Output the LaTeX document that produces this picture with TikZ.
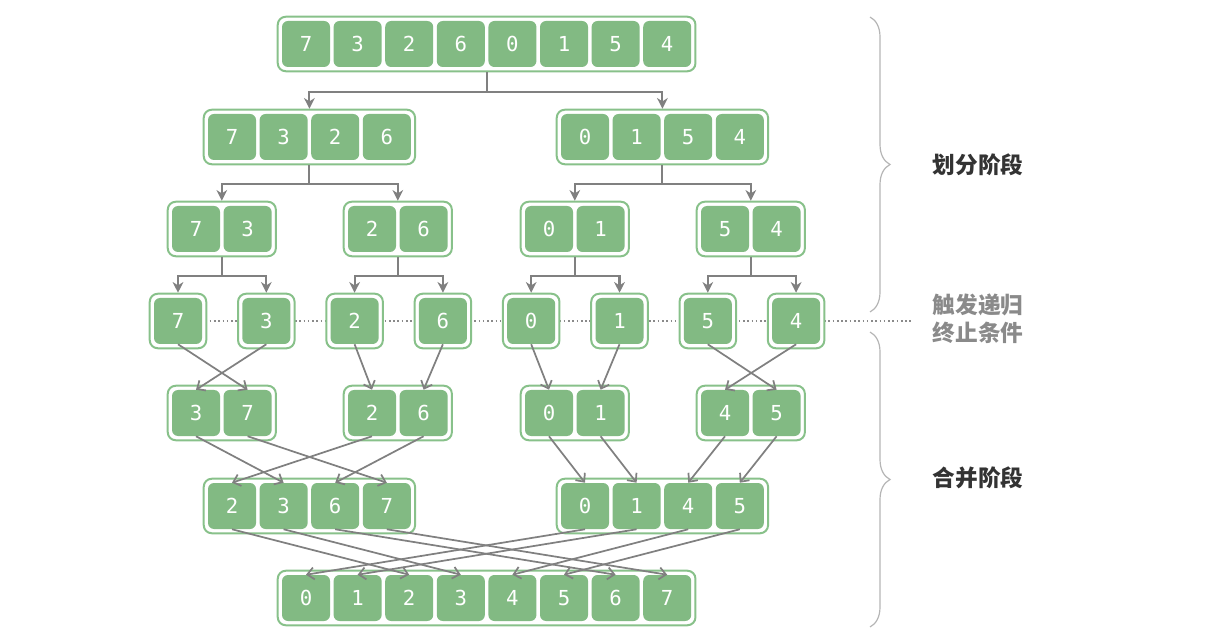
\documentclass[tikz,border=0pt]{standalone}
\usepackage{fontspec}
\usetikzlibrary{arrows.meta, fit, backgrounds, decorations.pathreplacing}
\newfontfamily\digitfont{DejaVu Sans Mono}
\newfontfamily\cjkfont{Noto Sans CJK SC}
\definecolor{cell-green}{HTML}{82BA83}
\definecolor{box-green}{HTML}{88C18A}
\definecolor{arrow-gray}{HTML}{808080}
\definecolor{label-dark}{HTML}{333333}
\definecolor{label-gray}{HTML}{8A8A8A}
\definecolor{brace-gray}{HTML}{B5B5B5}

\begin{document}
\begin{tikzpicture}[x=0.75pt, y=-0.75pt,
    cell/.style={rectangle, rounded corners=4.5pt, fill=cell-green, text=white,
      minimum width=36pt, minimum height=34.5pt, inner sep=0pt,
      font=\digitfont\fontsize{15.5}{15.5}\selectfont},
    arrbox/.style={rectangle, rounded corners=6pt, draw=box-green,
      line width=1.5pt, fill=white, inner sep=3pt},
    splitarrow/.style={arrow-gray, line width=1.6pt,
      -{Stealth[length=8pt, width=8pt, inset=2.5pt]}},
    mergearrow/.style={arrow-gray, line width=1.3pt,
      -{Straight Barb[length=5pt, width=9pt]}},
    stagebrace/.style={brace-gray, line width=0.9pt, decorate,
      decoration={brace, amplitude=15pt, aspect=0.5}},
    stagelabel/.style={font=\cjkfont\bfseries\fontsize{17}{21}\selectfont}]
    \useasboundingbox (0,0) rectangle (1231,634);

    % cells, row by row
    \foreach \x/\v [count=\i from 0] in {306/7, 357.6/3, 409.2/2, 460.8/6,
        512.4/0, 564/1, 615.6/5, 667.2/4}
      \node[cell] (a\i) at (\x, 44) {\v};
    \foreach \x/\v [count=\i from 0] in {232/7, 283.6/3, 335.2/2, 386.8/6,
        585/0, 636.6/1, 688.2/5, 739.8/4}
      \node[cell] (b\i) at (\x, 137) {\v};
    \foreach \x/\v [count=\i from 0] in {196/7, 247.6/3, 372/2, 423.6/6,
        549/0, 600.6/1, 725/5, 776.6/4}
      \node[cell] (c\i) at (\x, 229) {\v};
    \foreach \x/\v [count=\i from 0] in {178/7, 266.3/3, 354.6/2, 442.9/6,
        531.2/0, 619.5/1, 707.8/5, 796.1/4}
      \node[cell] (d\i) at (\x, 321) {\v};
    \foreach \x/\v [count=\i from 0] in {196/3, 247.6/7, 372/2, 423.6/6,
        549/0, 600.6/1, 725/4, 776.6/5}
      \node[cell] (e\i) at (\x, 413) {\v};
    \foreach \x/\v [count=\i from 0] in {232/2, 283.6/3, 335.2/6, 386.8/7,
        585/0, 636.6/1, 688.2/4, 739.8/5}
      \node[cell] (f\i) at (\x, 506) {\v};
    \foreach \x/\v [count=\i from 0] in {306/0, 357.6/1, 409.2/2, 460.8/3,
        512.4/4, 564/5, 615.6/6, 667.2/7}
      \node[cell] (g\i) at (\x, 598) {\v};

    % frames behind the cells
    \begin{scope}[on background layer]
      \coordinate (dotL) at (150,321);
      \coordinate (dotR) at (912,321);
      \draw[label-gray, line width=1.2pt, dotted] (dotL) -- (dotR);
      \node[arrbox, fit=(a0)(a7)] (ga) {};
      \node[arrbox, fit=(b0)(b3)] (gb0) {};
      \node[arrbox, fit=(b4)(b7)] (gb1) {};
      \node[arrbox, fit=(f0)(f3)] (gf0) {};
      \node[arrbox, fit=(f4)(f7)] (gf1) {};
      \node[arrbox, fit=(g0)(g7)] (gg) {};
      \foreach \k/\p/\q in {0/0/1, 1/2/3, 2/4/5, 3/6/7} {
        \node[arrbox, fit=(c\p)(c\q)] (gc\k) {};
        \node[arrbox, fit=(e\p)(e\q)] (ge\k) {};
      }
      \foreach \k in {0,...,7}
        \node[arrbox, fit=(d\k)] (gd\k) {};
    \end{scope}

    % dividing
    \draw[splitarrow] (ga.south) -- ++(0,20) -| (gb0.north);
    \draw[splitarrow] (ga.south) -- ++(0,20) -| (gb1.north);
    \foreach \s/\t in {gb0/gc0, gb0/gc1, gb1/gc2, gb1/gc3}
      \draw[splitarrow] (\s.south) -- ++(0,19) -| (\t.north);
    \foreach \s/\t in {gc0/gd0, gc0/gd1, gc1/gd2, gc1/gd3,
        gc2/gd4, gc2/gd5, gc3/gd6, gc3/gd7}
      \draw[splitarrow] (\s.south) -- ++(0,19) -| (\t.north);

    % merging
    \foreach \s/\t in {d0/e1, d1/e0, d2/e2, d3/e3, d4/e4, d5/e5, d6/e7, d7/e6,
        e0/f1, e1/f3, e2/f0, e3/f2, e4/f4, e5/f5, e6/f6, e7/f7,
        f0/g2, f1/g3, f2/g6, f3/g7, f4/g0, f5/g1, f6/g4, f7/g5}
      \draw[mergearrow] (\s.south) -- (\t.north);

    % stages
    \coordinate (brA) at (870,17);
    \coordinate (brB) at (870,312);
    \coordinate (brC) at (870,332);
    \coordinate (brD) at (870,627);
    \draw[stagebrace] (brA) -- (brB);
    \draw[stagebrace] (brC) -- (brD);
    \node[stagelabel, text=label-dark] (divlab) at (978,165) {划分阶段};
    \node[stagelabel, text=label-gray, align=center] (endlab) at (978,319)
      {触发递归\\终止条件};
    \node[stagelabel, text=label-dark] (mergelab) at (978,478) {合并阶段};
  \end{tikzpicture}
\end{document}
